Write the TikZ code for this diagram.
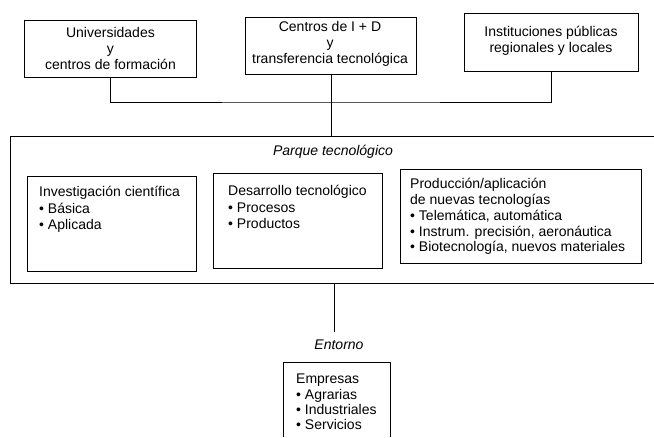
\documentclass[tikz,border=0pt]{standalone}
\usepackage{fontspec}
\setmainfont{Liberation Sans}
\begin{document}
\begin{tikzpicture}[x=1pt,y=-1pt,
  box/.style={draw, line width=0.9pt, inner sep=0pt, anchor=north west},
  frame/.style={inner sep=0pt, anchor=north west},
  side/.style={line width=0.9pt},
  ctxt/.style={font=\fontsize{14}{16}\selectfont, inner sep=0pt, align=center},
  ltxt/.style={font=\fontsize{14}{16.3}\selectfont, inner sep=0pt, align=left, anchor=west},
  link/.style={line width=0.7pt}]
\useasboundingbox (0,0) rectangle (654,437);

% top boxes
\node[box, minimum width=172pt, minimum height=57pt] (u) at (24,20) {};
\node[ctxt] (ut) at (u.center) {Universidades\\y\\centros de formación};
\node[box, minimum width=171pt, minimum height=57pt] (c) at (245,17) {};
\node[ctxt] (ct) at (330,44) {Centros de I + D\\y\\transferencia tecnológica};
\node[box, minimum width=174pt, minimum height=58pt] (i) at (464,13) {};
\node[ctxt] (it) at (551,41) {Instituciones públicas\\regionales y locales};

% big frame (open to the right)
\node[frame, minimum width=644pt, minimum height=147pt] (p) at (10,136) {};
\draw[side] (p.north east) -- (p.north west) -- (p.south west) -- (p.south east);
\node[font=\fontsize{14}{16}\selectfont\itshape, inner sep=0pt] (pt) at (333,152) {Parque tecnológico};

% connectors top
\coordinate (hm) at (331,102);
\draw[link] (u.south) |- (hm) -| (i.south);
\draw[link] (c.south) -- (c.south |- p.north);

% inner boxes
\node[box, minimum width=169pt, minimum height=95pt] (a) at (27,176) {};
\node[ltxt] (at) at (39,209.5) {Investigación científica\\• Básica\\• Aplicada};
\node[box, minimum width=169pt, minimum height=95pt] (b) at (213,173) {};
\node[ltxt] (bt) at (228,207) {Desarrollo tecnológico\\• Procesos\\• Productos};
\node[box, minimum width=241pt, minimum height=94pt] (d) at (400,169) {};
\node[ltxt, font=\fontsize{14}{15.8}\selectfont] (dt) at (410,216.5) {Producción/aplicación\\de nuevas tecnologías\\• Telemática, automática\\• Instrum. precisión, aeronáutica\\• Biotecnología, nuevos materiales};

% entorno
\node[font=\fontsize{14}{16}\selectfont\itshape, inner sep=0pt] (en) at (339,345) {Entorno};
\coordinate (pb) at (334,283);
\draw[link] (pb) -- (334,332);

% empresas box (cut by the lower edge)
\node[frame, minimum width=107pt, minimum height=75pt] (e) at (283,362) {};
\draw[side] (e.south west) -- (e.north west) -- (e.north east) -- (e.south east);
\node[ltxt, font=\fontsize{14}{15.3}\selectfont] (et) at (296,402) {Empresas\\• Agrarias\\• Industriales\\• Servicios};
\end{tikzpicture}
\end{document}
